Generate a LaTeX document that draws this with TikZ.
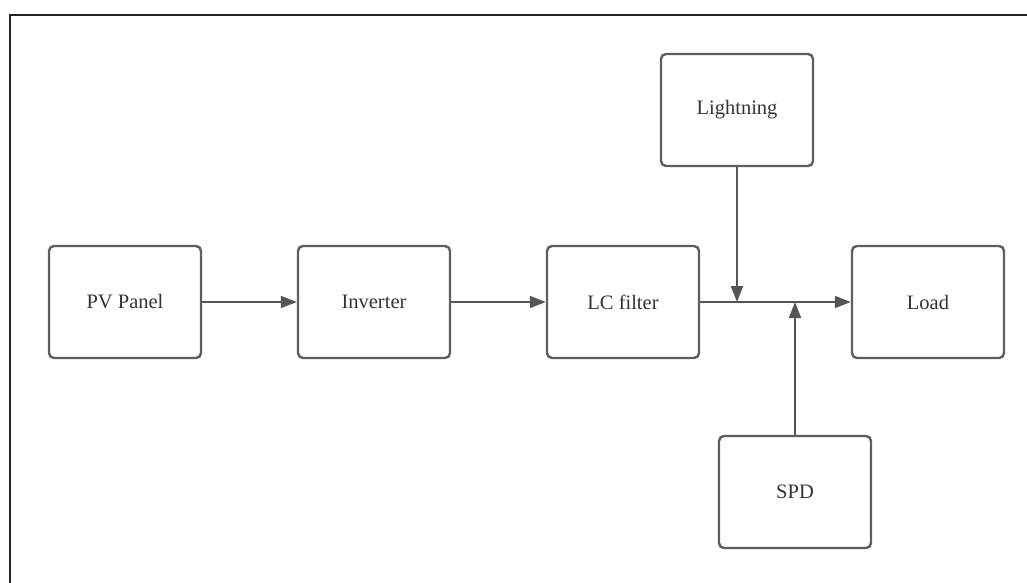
\documentclass[tikz,border=0pt]{standalone}
\usepackage{fontspec}
\setmainfont{Liberation Serif}
\usetikzlibrary{arrows.meta}
\definecolor{boxgray}{HTML}{5E5E5E}
\definecolor{linegray}{HTML}{555555}
\begin{document}
\begin{tikzpicture}[x=1pt,y=-1pt,
  block/.style={draw=boxgray, line width=2.4pt, rounded corners=5pt,
    minimum width=152pt, minimum height=112pt, inner sep=0pt,
    font=\fontsize{20.5}{24}\selectfont, text=black!80},
  flow/.style={draw=linegray, line width=1.8pt,
    -{Triangle[length=16pt,width=12pt]}}]
  \useasboundingbox (0,0) rectangle (1027,583);
  % outer frame (top and left edges)
  \draw[line width=2.6pt, black!85] (10,583) -- (10,15) -- (1027,15);
  % blocks
  \node[block] (pv)    at (125,302) {PV Panel};
  \node[block] (inv)   at (374,302) {Inverter};
  \node[block] (lc)    at (623,302) {LC filter};
  \node[block] (load)  at (928,302) {Load};
  \node[block] (light) at (737,110) {Lightning};
  \node[block] (spd)   at (795,492) {SPD};
  % junction points on the LC filter -- Load line
  \coordinate (jl) at (light.south |- lc.east);
  \coordinate (js) at (spd.north |- lc.east);
  % connectors
  \draw[flow] (pv) -- (inv);
  \draw[flow] (inv) -- (lc);
  \draw[flow] (lc) -- (load);
  \draw[flow] (light) -- (jl);
  \draw[flow] (spd) -- (js);
\end{tikzpicture}
\end{document}
